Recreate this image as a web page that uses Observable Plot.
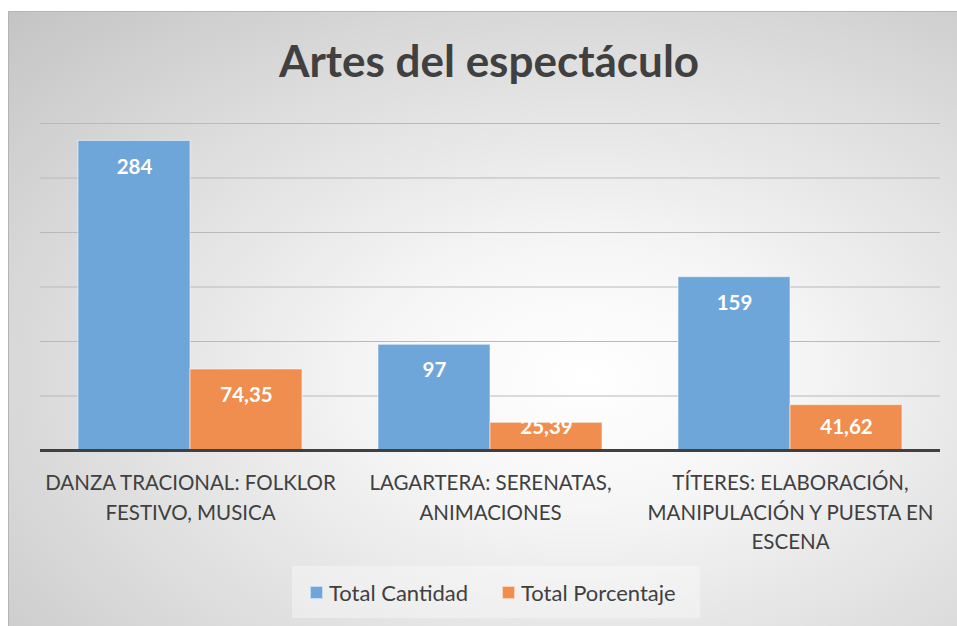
<!DOCTYPE html>
<html>
<head>
<meta charset="utf-8">
<script src="https://cdn.jsdelivr.net/npm/d3@7"></script>
<script src="https://cdn.jsdelivr.net/npm/@observablehq/plot@0.6"></script>
<style>
  html, body { margin: 0; padding: 0; background: #fff; }
  #wrap { position: relative; width: 957px; height: 626px; overflow: hidden; font-family: Lato, "Open Sans", sans-serif; }
  #frame { position: absolute; left: 8px; top: 11px; width: 960px; height: 630px; border: 1px solid #b4b4b4;
    background: radial-gradient(ellipse farthest-corner at 60% 58%, #ffffff 0%, #f6f6f6 25%, #dcdcdc 65%, #c4c4c4 100%); }
  #title { position: absolute; left: 0; top: 30px; width: 978px; text-align: center; font-weight: 700; font-size: 44px; color: #404040; line-height: 60px; }
  #chart { position: absolute; left: 0; top: 0; }
  #legend { position: absolute; left: 292px; top: 566px; width: 408px; height: 52px; background: rgba(255,255,255,0.35);
    font-size: 22px; color: #404040; }
  .item { position: absolute; top: 0; height: 52px; display: flex; align-items: center; white-space: nowrap; }
  .sw { width: 11px; height: 11px; margin-right: 6px; border: 1px solid rgba(255,255,255,0.6); }
</style>
</head>
<body>
<div id="wrap">
  <div id="frame"></div>
  <div id="title">Artes del espectáculo</div>
  <div id="chart"></div>
  <div id="legend"></div>
</div>
<script>
const categories = [
  "DANZA TRACIONAL: FOLKLOR FESTIVO, MUSICA",
  "LAGARTERA: SERENATAS, ANIMACIONES",
  "TÍTERES: ELABORACIÓN, MANIPULACIÓN Y PUESTA EN ESCENA"
];
const categoryLabels = [
  "DANZA TRACIONAL: FOLKLOR\nFESTIVO, MUSICA",
  "LAGARTERA: SERENATAS,\nANIMACIONES",
  "TÍTERES: ELABORACIÓN,\nMANIPULACIÓN Y PUESTA EN\nESCENA"
];
const seriesNames = ["Total Cantidad", "Total Porcentaje"];
const totalCantidad = [284, 97, 159];
const totalPorcentaje = [74.35, 25.39, 41.62];
const colors = ["#6fa6d9", "#ef8e4e"];
const yTicks = [0, 50, 100, 150, 200, 250, 300];

const data = [];
categories.forEach((c, i) => {
  data.push({category: c, series: seriesNames[0], value: totalCantidad[i]});
  data.push({category: c, series: seriesNames[1], value: totalPorcentaje[i]});
});
const fmt = v => String(v).replace(".", ",");
const labelOf = new Map(categories.map((c, i) => [c, categoryLabels[i]]));

const chart = Plot.plot({
  width: 957,
  height: 626,
  marginTop: 123,
  marginBottom: 176,
  marginLeft: 39,
  marginRight: 17,
  style: { background: "transparent", fontFamily: "Lato, 'Open Sans', sans-serif", color: "#404040" },
  fx: { domain: categories, padding: 0, label: null, axis: null },
  x: { domain: seriesNames, paddingInner: 0, paddingOuter: 0.333, axis: null },
  y: { domain: [0, 300], axis: null },
  color: { domain: seriesNames, range: colors },
  marks: [
    Plot.gridY(yTicks, { stroke: "#b9b9b9", strokeOpacity: 1, strokeWidth: 1 }),
    Plot.barY(data, { fx: "category", x: "series", y: "value", fill: "series", stroke: "#ffffff", strokeOpacity: 0.55, strokeWidth: 1 }),
    // inside-end labels: 24 units below the bar top, kept above a floor for short bars
    Plot.text(data, { fx: "category", x: "series", y: d => Math.max(d.value - 24, 21), text: d => fmt(d.value), fill: "white", fontWeight: "bold", fontSize: 20.5 }),
    Plot.ruleY([0], { stroke: "#404040", strokeWidth: 3 }),
    Plot.axisFx({ anchor: "bottom", tickSize: 0, tickPadding: 19, fontSize: 20.5, lineHeight: 1.44, fill: "#404040", tickFormat: c => labelOf.get(c), label: null })
  ]
});
document.getElementById("chart").appendChild(chart);

const legend = document.getElementById("legend");
const legendX = [18, 210];
seriesNames.forEach((s, i) => {
  const it = document.createElement("div");
  it.className = "item";
  it.style.left = legendX[i] + "px";
  const sw = document.createElement("div");
  sw.className = "sw";
  sw.style.background = colors[i];
  const t = document.createElement("span");
  t.textContent = s;
  it.appendChild(sw); it.appendChild(t);
  legend.appendChild(it);
});
</script>
</body>
</html>
